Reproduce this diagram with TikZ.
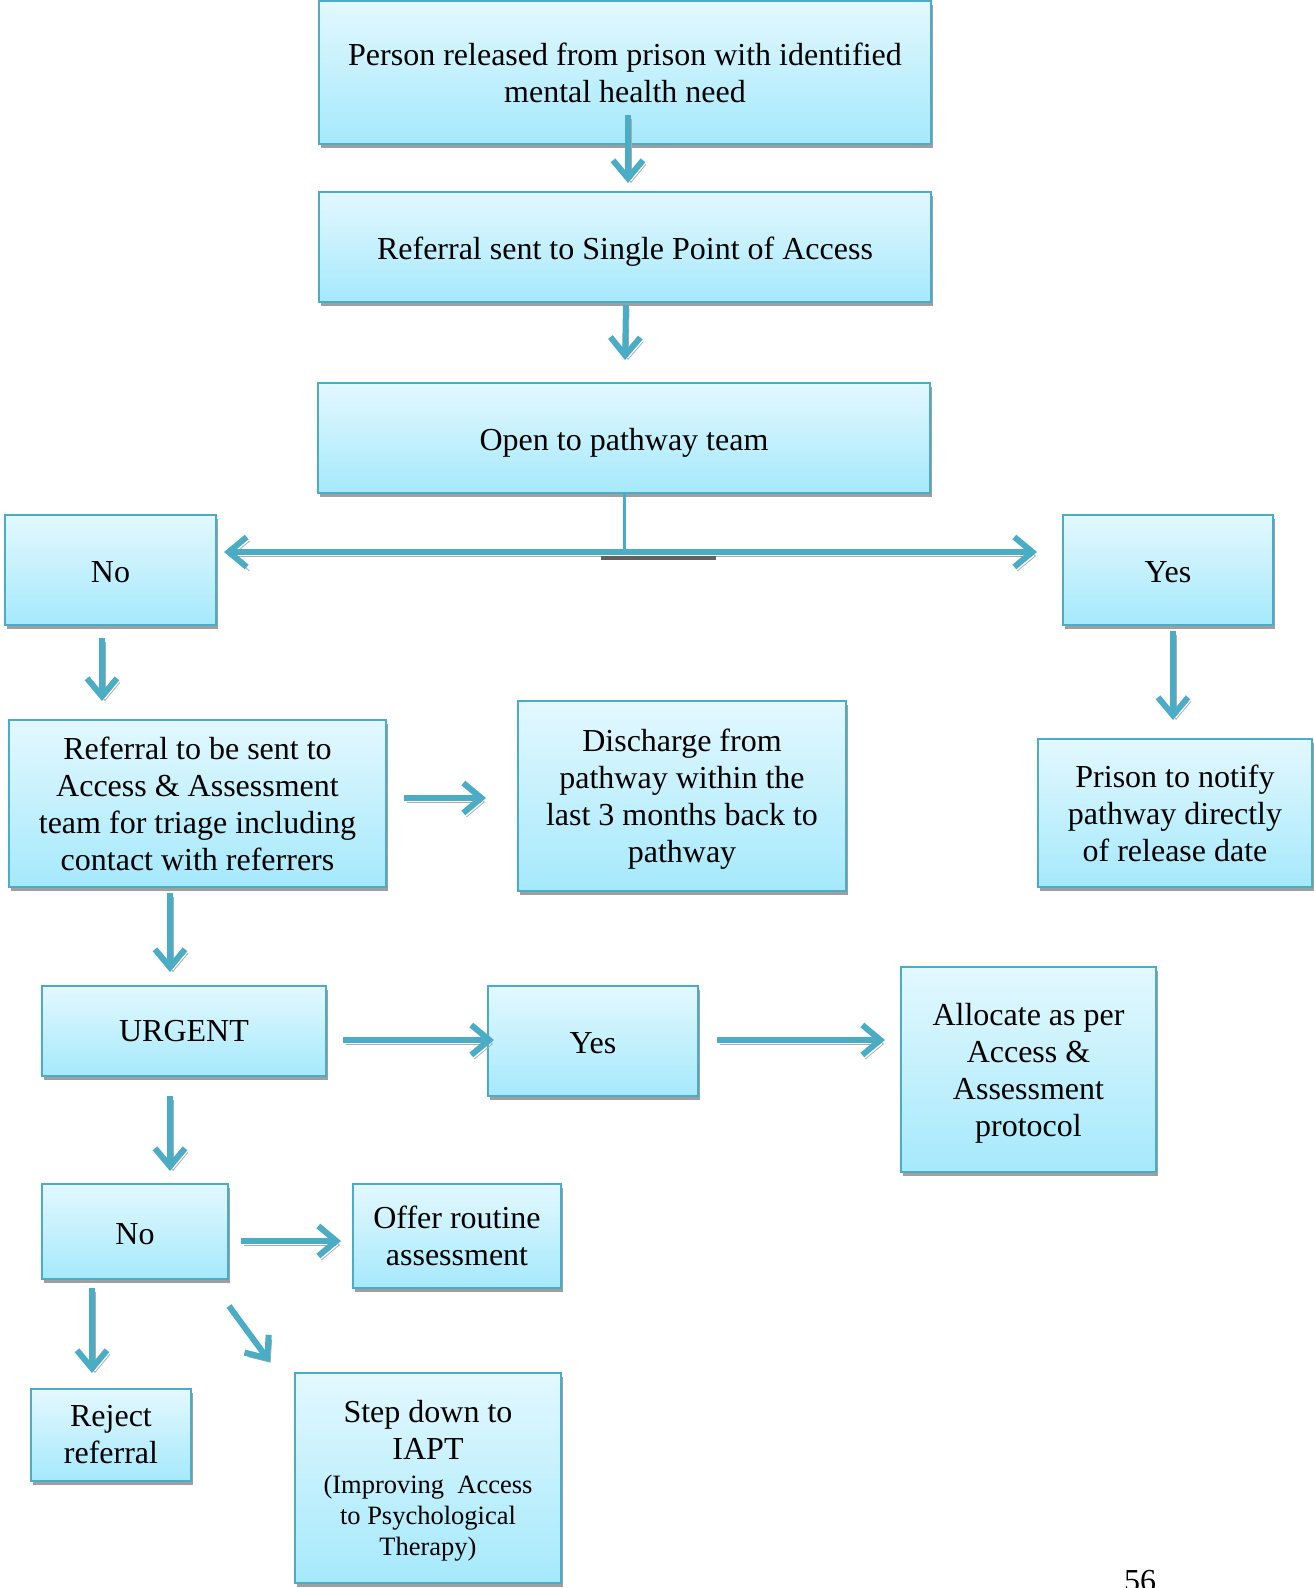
\documentclass[tikz,border=0pt]{standalone}
\usepackage{fontspec}
\setmainfont{Liberation Serif}
\usetikzlibrary{arrows.meta,shadows}

\definecolor{flowline}{HTML}{4BACC6}
\definecolor{flowtop}{HTML}{E3F8FE}
\definecolor{flowbot}{HTML}{A5E9FC}
\newcommand{\iaptsmall}{\fontsize{13.25}{15.5}\selectfont}
\newcommand{\lowr}[1]{\rule{0pt}{#1}}

\tikzset{
    flowbox/.style={draw=flowline, line width=1pt, top color=flowtop, bottom color=flowbot,
        align=center, inner sep=0pt, font=\fontsize{16}{18.5}\selectfont,
        drop shadow={shadow xshift=1pt, shadow yshift=-2pt, fill=gray!75, opacity=1}},
    flowarrow/.style={draw=flowline, line width=3pt, -{Straight Barb[length=9pt,width=15pt]},
        preaction={draw=gray!65, transform canvas={xshift=1.5pt,yshift=-2pt}}},
    forkline/.style={draw=flowline, line width=1.5pt},
}

\begin{document}
\begin{tikzpicture}[x=0.5pt,y=-0.5pt]
    \useasboundingbox (0,0) rectangle (1313,1588);

    % Boxes
    \node[flowbox, minimum width=306pt, minimum height=71.5pt] (release) at (625,72.5)
        {Person released from prison with identified\\mental health need};
    \node[flowbox, minimum width=306pt, minimum height=55pt] (spa) at (625,247)
        {\lowr{16pt}Referral sent to Single Point of Access};
    \node[flowbox, minimum width=306pt, minimum height=55pt] (pathway) at (624,438)
        {\lowr{16pt}Open to pathway team};
    \node[flowbox, minimum width=105.5pt, minimum height=55pt] (no) at (110.5,570) {\lowr{13pt}No};
    \node[flowbox, minimum width=105pt, minimum height=55pt] (yes) at (1168,570) {\lowr{13pt}Yes};
    \node[flowbox, minimum width=188.5pt, minimum height=83.5pt] (triage) at (197.5,803.5)
        {Referral to be sent to\\Access \& Assessment\\team for triage including\\contact with referrers};
    \node[flowbox, minimum width=164pt, minimum height=95pt] (discharge) at (682,796)
        {\lowr{14.5pt}Discharge from\\pathway within the\\last 3 months back to\\pathway};
    \node[flowbox, minimum width=137pt, minimum height=74pt] (notify) at (1175,813)
        {Prison to notify\\pathway directly\\of release date};
    \node[flowbox, minimum width=142pt, minimum height=45pt] (urgent) at (184,1031) {URGENT};
    \node[flowbox, minimum width=105pt, minimum height=55pt] (urgyes) at (593,1041) {\lowr{13pt}Yes};
    \node[flowbox, minimum width=127.5pt, minimum height=102.5pt] (allocate) at (1028.5,1069.5)
        {\lowr{15pt}Allocate as per\\Access \&\\Assessment\\protocol};
    \node[flowbox, minimum width=93pt, minimum height=47.5pt] (urgno) at (135,1231.5) {\lowr{13pt}No};
    \node[flowbox, minimum width=104pt, minimum height=52pt] (routine) at (457,1236)
        {Offer routine\\assessment};
    \node[flowbox, minimum width=80pt, minimum height=46pt] (reject) at (111,1435)
        {Reject\\referral};
    \node[flowbox, minimum width=133pt, minimum height=105pt] (iapt) at (428,1478)
        {\lowr{13.5pt}Step down to\\IAPT\\[-1.5pt]\iaptsmall (Improving\ \ Access\\[-3pt]\iaptsmall to Psychological\\[-3pt]\iaptsmall Therapy)};

    % Fork under pathway team
    \coordinate (fork) at ([shift={(0,59)}]pathway.south);
    \draw[forkline] (pathway.south) -- (fork);
    \draw[flowarrow, {Straight Barb[length=9pt,width=15pt]}-{Straight Barb[length=9pt,width=15pt]}]
        ([shift={(7,-18)}]no.east) -- ([shift={(-25,-18)}]yes.west);
    \fill[black!62] ([shift={(-23,3)}]fork) rectangle ([shift={(92,7)}]fork);

    % Arrows
    \draw[flowarrow] ([shift={(3,-30)}]release.south) -- ([shift={(3,-8)}]spa.north);
    \draw[flowarrow] ([shift={(1,2)}]spa.south) -- ([shift={(1,-22)}]pathway.north);
    \draw[flowarrow] ([shift={(-8.5,12)}]no.south) -- ([shift={(-95.5,-18)}]triage.north);
    \draw[flowarrow] ([shift={(5,5)}]yes.south) -- ([shift={(-2,-18)}]notify.north);
    \draw[flowarrow] ([shift={(17,-5.5)}]triage.east) -- ([shift={(-31,2)}]discharge.west);
    \draw[flowarrow] ([shift={(-27.5,5)}]triage.south) -- ([shift={(-14,-13)}]urgent.north);
    \draw[flowarrow] ([shift={(16,9)}]urgent.east) -- ([shift={(7,-1)}]urgyes.west);
    \draw[flowarrow] ([shift={(18,-1)}]urgyes.east) -- ([shift={(-15,-29.5)}]allocate.west);
    \draw[flowarrow] ([shift={(-14,19)}]urgent.south) -- ([shift={(35,-12)}]urgno.north);
    \draw[flowarrow] ([shift={(12,9.5)}]urgno.east) -- ([shift={(-11,5)}]routine.west);
    \draw[flowarrow] ([shift={(-43,8)}]urgno.south) -- ([shift={(-19,-15)}]reject.north);
    \draw[flowarrow] ([shift={(0,26)}]urgno.south east) -- ([shift={(-24,-10)}]iapt.north west);

    % Page number
    \node[anchor=north, inner sep=0pt, font=\fontsize{16}{18.5}\selectfont] (page) at (1140,1570) {56};
\end{tikzpicture}
\end{document}
